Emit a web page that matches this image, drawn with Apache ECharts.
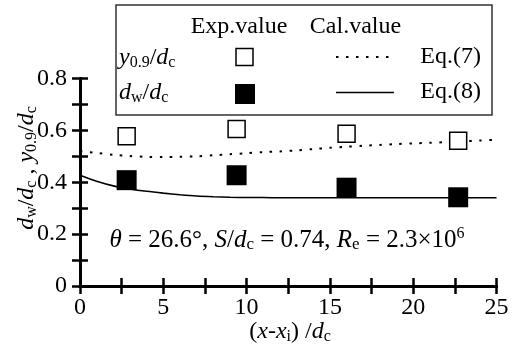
<!DOCTYPE html>
<html>
<head>
<meta charset="utf-8">
<script src="https://cdn.jsdelivr.net/npm/echarts@6/dist/echarts.min.js"></script>
<style>html,body{margin:0;padding:0;background:#fff}#c{width:516px;height:347px}</style>
</head>
<body>
<div id="c"></div>
<script>
// ---- data ----
const xExp = [2.8, 9.4, 16.0, 22.7];
const y09Exp = [0.577, 0.605, 0.587, 0.560];
const dwExp = [0.408, 0.427, 0.379, 0.342];
const xCal = [0,1,2,3,4,5,6,7,8,9,10,11,12,13,14,15,16,17,18,19,20,21,22,23,24,25];
const eq7 = [0.520,0.513,0.506,0.501,0.498,0.497,0.498,0.500,0.504,0.508,0.512,0.516,0.519,0.523,0.528,0.533,0.537,0.541,0.544,0.547,0.550,0.552,0.555,0.558,0.561,0.564];
const eq8 = [0.427,0.404,0.386,0.374,0.365,0.358,0.352,0.347,0.344,0.342,0.341,0.341,0.340,0.340,0.340,0.340,0.340,0.340,0.340,0.340,0.340,0.340,0.340,0.340,0.340,0.340];
const xTicks = [0, 5, 10, 15, 20, 25];
const yTicks = [0, 0.2, 0.4, 0.6, 0.8];

const FF = 'Liberation Serif, DejaVu Serif, serif';
const FS = 24;
const rich = {
  i: {fontFamily: FF, fontSize: FS, fontStyle: 'italic', color: '#000'},
  n: {fontFamily: FF, fontSize: FS, color: '#000'},
  s: {fontFamily: FF, fontSize: 16, color: '#000', padding: [10, 0, 0, 0]},
  p: {fontFamily: FF, fontSize: 15, color: '#000', padding: [0, 0, 12, 0]}
};
const richA = {
  i: {fontFamily: FF, fontSize: 25, fontStyle: 'italic', color: '#000'},
  n: {fontFamily: FF, fontSize: 25, color: '#000'},
  s: {fontFamily: FF, fontSize: 17, color: '#000', padding: [10, 0, 0, 0]},
  p: {fontFamily: FF, fontSize: 16, color: '#000', padding: [0, 0, 12, 0]}
};
const zip = (a, b) => a.map((v, k) => [v, b[k]]);
const near = (v, arr) => arr.some(t => Math.abs(t - v) < 1e-6);

const chart = echarts.init(document.getElementById('c'), null, {renderer: 'canvas'});
const axisLine = {show: true, lineStyle: {color: '#000', width: 3}};
const tick = {show: true, inside: true, length: 8, lineStyle: {color: '#000', width: 2.5}};
chart.setOption({
  animation: false,
  backgroundColor: '#fff',
  textStyle: {fontFamily: FF},
  grid: {left: 80, right: 19.5, top: 78.5, bottom: 61, containLabel: false},
  xAxis: [{
    type: 'value', min: 0, max: 25, interval: 2.5, position: 'bottom',
    axisLine, axisTick: tick, splitLine: {show: false},
    axisLabel: {fontFamily: FF, fontSize: FS, color: '#000', margin: 10,
      formatter: v => near(v, xTicks) ? String(v) : ''}
  }, {
    type: 'value', min: 0, max: 25, interval: 2.5, position: 'top',
    axisLine, axisTick: tick, axisLabel: {show: false}, splitLine: {show: false}
  }],
  yAxis: [{
    type: 'value', min: 0, max: 0.8, interval: 0.1, position: 'left',
    axisLine, axisTick: tick, splitLine: {show: false},
    axisLabel: {fontFamily: FF, fontSize: FS, color: '#000', margin: 13,
      formatter: v => near(v, yTicks) ? (v === 0 ? '0' : v.toFixed(1)) : ''}
  }, {
    type: 'value', min: 0, max: 0.8, interval: 0.1, position: 'right',
    axisLine, axisTick: tick, axisLabel: {show: false}, splitLine: {show: false}
  }],
  series: [
    {type: 'line', data: zip(xCal, eq7), showSymbol: false, symbol: 'none', smooth: 0.3, z: 2,
     lineStyle: {color: '#000', width: 2, type: [2.5, 7.5]}},
    {type: 'line', data: zip(xCal, eq8), showSymbol: false, symbol: 'none', smooth: 0.3, z: 2,
     lineStyle: {color: '#000', width: 1.6}},
    {type: 'scatter', data: zip(xExp, y09Exp), symbol: 'rect', symbolSize: 17, z: 3,
     itemStyle: {color: '#fff', borderColor: '#000', borderWidth: 1.5, opacity: 1}},
    {type: 'scatter', data: zip(xExp, dwExp), symbol: 'rect', symbolSize: 20, z: 3,
     itemStyle: {color: '#000', opacity: 1}}
  ],
  graphic: [
    // legend box
    {type: 'rect', z: 100, shape: {x: 116, y: 5, width: 376, height: 110},
     style: {fill: '#fff', stroke: '#333', lineWidth: 1.5}},
    {type: 'text', z: 101, x: 239, y: 27, style: {text: 'Exp.value', fontFamily: FF, fontSize: FS, fill: '#000', align: 'center', verticalAlign: 'middle'}},
    {type: 'text', z: 101, x: 355.5, y: 27, style: {text: 'Cal.value', fontFamily: FF, fontSize: FS, fill: '#000', align: 'center', verticalAlign: 'middle'}},
    {type: 'text', z: 101, x: 119, y: 58, style: {text: '{i|y}{s|0.9}{n|/}{i|d}{s|c}', rich, align: 'left', verticalAlign: 'middle'}},
    {type: 'text', z: 101, x: 119, y: 93, style: {text: '{i|d}{s|w}{n|/}{i|d}{s|c}', rich, align: 'left', verticalAlign: 'middle'}},
    {type: 'rect', z: 101, shape: {x: 236, y: 48.5, width: 17, height: 17}, style: {fill: '#fff', stroke: '#000', lineWidth: 1.5}},
    {type: 'rect', z: 101, shape: {x: 235, y: 84, width: 20, height: 20}, style: {fill: '#000'}},
    {type: 'line', z: 101, shape: {x1: 336, y1: 57, x2: 393, y2: 57}, style: {stroke: '#000', lineWidth: 2, lineDash: [2.5, 7.5]}},
    {type: 'line', z: 101, shape: {x1: 336, y1: 92.5, x2: 394, y2: 92.5}, style: {stroke: '#000', lineWidth: 1.6}},
    {type: 'text', z: 101, x: 481, y: 57, style: {text: 'Eq.(7)', fontFamily: FF, fontSize: FS, fill: '#000', align: 'right', verticalAlign: 'middle'}},
    {type: 'text', z: 101, x: 481, y: 92, style: {text: 'Eq.(8)', fontFamily: FF, fontSize: FS, fill: '#000', align: 'right', verticalAlign: 'middle'}},
    // annotation
    {type: 'text', z: 50, x: 287, y: 240, style: {text: '{i|θ}{n| = 26.6°, }{i|S}{n|/}{i|d}{s|c}{n| = 0.74, }{i|R}{s|e}{n| = 2.3×10}{p|6}', rich: richA, align: 'center', verticalAlign: 'middle'}},
    // axis names
    {type: 'text', z: 50, x: 290, y: 332, style: {text: '{n|(}{i|x}{n|-}{i|x}{s|i}{n|) /}{i|d}{s|c}', rich, align: 'center', verticalAlign: 'middle'}},
    {type: 'text', z: 50, x: 27, y: 168, rotation: Math.PI / 2, style: {text: '{i|d}{s|w}{n|/}{i|d}{s|c}{n| , }{i|y}{s|0.9}{n|/}{i|d}{s|c}', rich, align: 'center', verticalAlign: 'middle'}}
  ]
});
</script>
</body>
</html>
